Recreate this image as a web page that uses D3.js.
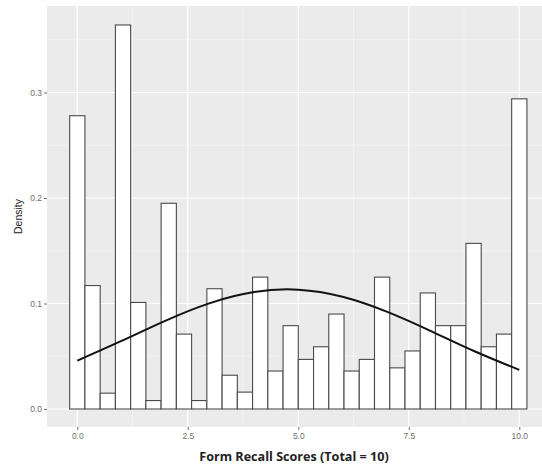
<!DOCTYPE html>
<html>
<head>
<meta charset="utf-8">
<script src="https://cdn.jsdelivr.net/npm/d3@7"></script>
<style>
  body { margin: 0; background: #fff; }
  svg { display: block; }
</style>
</head>
<body>
<div id="chart"></div>
<script>
// ---------------------------------- DATA ---------------------------------- //

// 30 bins from 0 to 10, bar centres at i * 10 / 29
let bin_count = 30;
let bin_lo = 0;
let bin_hi = 10;
let densities = [
  0.278, 0.117, 0.015, 0.364, 0.101, 0.008, 0.195, 0.071, 0.008, 0.114,
  0.032, 0.016, 0.125, 0.036, 0.079, 0.047, 0.059, 0.090, 0.036, 0.047,
  0.125, 0.039, 0.055, 0.110, 0.079, 0.079, 0.157, 0.059, 0.071, 0.294
];

// density curve, read at whole scores
let curve_x = [0, 1, 2, 3, 4, 5, 6, 7, 8, 9, 10];
let curve_y = [0.0458, 0.0645, 0.0838, 0.1004, 0.1109, 0.1131, 0.1064, 0.0923, 0.0739, 0.0545, 0.0371];

let x_ticks = [0, 2.5, 5, 7.5, 10];
let x_minor = [1.25, 3.75, 6.25, 8.75];
let y_ticks = [0, 0.1, 0.2, 0.3];
let y_minor = [0.05, 0.15, 0.25, 0.35];

// ---------------------------------- SETTINGS ---------------------------------- //

let img_width = 542;
let img_height = 466;
let panel = { left: 47, top: 6, right: 542, bottom: 427 };
let panel_bg = '#ebebeb';
let tick_color = '#6e6e6e';
let bar_stroke = '#4a4a4a';

// ---------------------------------- SCALES ---------------------------------- //

let x = d3.scaleLinear().domain([0, 10]).range([77.3, 519.3]);
let y = d3.scaleLinear().domain([0, 0.3]).range([409, 92.5]);
let bin_width = (bin_hi - bin_lo) / (bin_count - 1);

let svg = d3.select('#chart').append('svg')
  .attr('width', img_width)
  .attr('height', img_height);

// panel + grid
svg.append('rect')
  .attr('x', panel.left).attr('y', panel.top)
  .attr('width', panel.right - panel.left)
  .attr('height', panel.bottom - panel.top)
  .attr('fill', panel_bg);

let grid = svg.append('g');
grid.selectAll('.xminor').data(x_minor).enter().append('line')
  .attr('x1', d => x(d)).attr('x2', d => x(d))
  .attr('y1', panel.top).attr('y2', panel.bottom)
  .attr('stroke', '#f6f6f6').attr('stroke-width', 0.6);
grid.selectAll('.yminor').data(y_minor).enter().append('line')
  .attr('x1', panel.left).attr('x2', panel.right)
  .attr('y1', d => y(d)).attr('y2', d => y(d))
  .attr('stroke', '#f6f6f6').attr('stroke-width', 0.6);
grid.selectAll('.xmajor').data(x_ticks).enter().append('line')
  .attr('x1', d => x(d)).attr('x2', d => x(d))
  .attr('y1', panel.top).attr('y2', panel.bottom)
  .attr('stroke', '#fff').attr('stroke-width', 1.2);
grid.selectAll('.ymajor').data(y_ticks).enter().append('line')
  .attr('x1', panel.left).attr('x2', panel.right)
  .attr('y1', d => y(d)).attr('y2', d => y(d))
  .attr('stroke', '#fff').attr('stroke-width', 1.2);

// ---------------------------------- BARS ---------------------------------- //

svg.append('g').selectAll('rect')
  .data(densities)
  .enter()
  .append('rect')
  .attr('x', (d, i) => x(bin_lo + i * bin_width - bin_width / 2))
  .attr('width', x(bin_width) - x(0))
  .attr('y', d => y(d))
  .attr('height', d => y(0) - y(d))
  .attr('fill', '#fff')
  .attr('stroke', bar_stroke)
  .attr('stroke-width', 1.1);

// ---------------------------------- CURVE ---------------------------------- //

let line = d3.line()
  .x(d => x(d[0]))
  .y(d => y(d[1]))
  .curve(d3.curveNatural);

svg.append('path')
  .datum(curve_x.map((v, i) => [v, curve_y[i]]))
  .attr('d', line)
  .attr('fill', 'none')
  .attr('stroke', '#111')
  .attr('stroke-width', 2);

// ---------------------------------- AXES ---------------------------------- //

let x_axis = svg.append('g')
  .attr('transform', `translate(0,${panel.bottom})`)
  .call(d3.axisBottom(x).tickValues(x_ticks).tickFormat(d3.format('.1f')).tickSize(3).tickPadding(3));
let y_axis = svg.append('g')
  .attr('transform', `translate(${panel.left},0)`)
  .call(d3.axisLeft(y).tickValues(y_ticks).tickFormat(d3.format('.1f')).tickSize(3).tickPadding(2));

[x_axis, y_axis].forEach(function(a) {
  a.select('.domain').remove();
  a.selectAll('line').attr('stroke', tick_color);
  a.selectAll('text')
    .attr('fill', tick_color)
    .style('font-family', 'Liberation Sans, Arial, sans-serif')
    .style('font-size', '8.5px');
});

svg.append('text')
  .attr('transform', `translate(22,${(panel.top + panel.bottom) / 2}) rotate(-90)`)
  .attr('text-anchor', 'middle')
  .style('font-family', 'Liberation Sans, Arial, sans-serif')
  .style('font-size', '10.5px')
  .attr('fill', '#222')
  .text('Density');

svg.append('text')
  .attr('x', 294)
  .attr('y', 461)
  .attr('text-anchor', 'middle')
  .style('font-family', 'Open Sans, sans-serif')
  .style('font-weight', 'bold')
  .style('font-size', '12.6px')
  .attr('fill', '#222')
  .text('Form Recall Scores (Total = 10)');
</script>
</body>
</html>
